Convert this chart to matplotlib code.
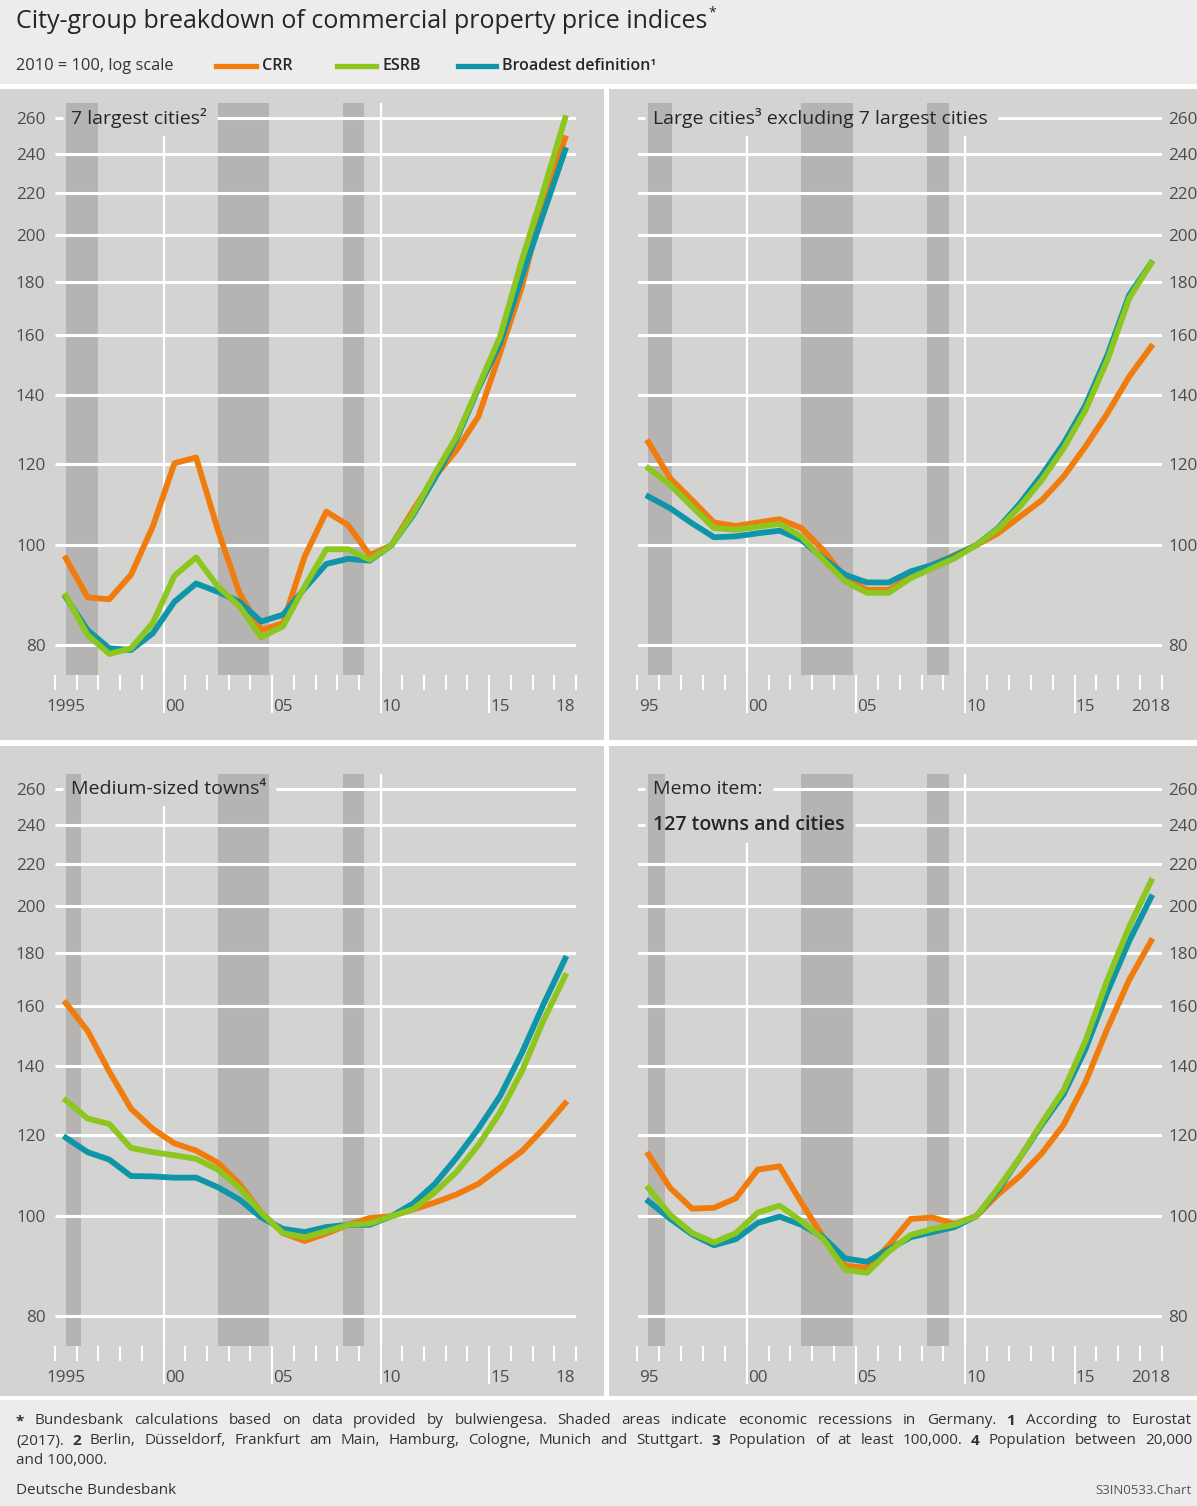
import matplotlib
matplotlib.use("Agg")
import matplotlib.pyplot as plt
from matplotlib.lines import Line2D
from matplotlib.patches import Rectangle
from matplotlib.ticker import NullLocator
import numpy as np

plt.rcParams['font.family'] = ['Open Sans', 'DejaVu Sans']

W, H = 1197, 1506

# annual data, 2010 = 100
years = np.arange(1995, 2019)

big7_crr = [97.1, 89.0, 88.6, 93.6, 104.2, 120.1, 121.7, 103.5, 89.8, 82.7, 84.0, 97.5,
            107.8, 104.6, 97.8, 100.0, 108.2, 116.6, 123.7, 133.3, 153.7, 178.0, 216.0, 248.5]
big7_esrb = [89.3, 81.8, 78.4, 79.4, 84.0, 93.4, 97.3, 91.2, 87.2, 81.4, 83.4, 91.2,
             99.1, 99.1, 96.8, 100.0, 107.4, 117.4, 127.5, 142.5, 159.4, 189.0, 221.0, 260.0]
big7_broad = [89.0, 82.7, 79.4, 79.1, 82.1, 88.1, 91.8, 90.1, 88.1, 84.3, 85.6, 90.8,
              95.9, 97.0, 96.6, 100.0, 107.0, 116.2, 126.8, 142.0, 157.0, 182.0, 210.0, 242.0]

large_crr = [125.9, 116.1, 110.6, 105.2, 104.4, 105.2, 106.0, 103.9, 98.9, 92.9, 90.5, 90.5,
             93.2, 95.7, 97.8, 100.0, 102.7, 106.6, 110.6, 116.6, 124.7, 134.3, 145.8, 155.9]
large_esrb = [118.8, 114.4, 109.0, 103.9, 103.5, 104.2, 104.9, 101.9, 96.8, 92.2, 89.9, 89.9,
              92.9, 95.0, 97.1, 100.0, 103.7, 109.0, 115.7, 124.2, 135.3, 151.3, 173.7, 187.9]
large_broad = [111.5, 108.6, 105.0, 101.8, 102.0, 102.7, 103.3, 101.2, 97.1, 93.6, 92.0, 92.0,
               94.3, 95.7, 97.6, 100.0, 103.9, 109.8, 117.0, 125.6, 136.8, 153.0, 175.0, 188.0]

medium_crr = [161.1, 151.4, 138.2, 127.2, 121.6, 117.7, 115.8, 112.7, 107.5, 100.8, 96.3, 94.6,
              96.2, 98.1, 99.6, 100.0, 101.5, 103.1, 105.0, 107.5, 111.5, 115.6, 121.6, 128.7]
medium_esrb = [129.6, 124.4, 122.9, 116.5, 115.4, 114.6, 113.7, 111.0, 106.5, 100.8, 96.3, 95.4,
               96.7, 98.1, 98.4, 100.0, 101.6, 105.5, 110.4, 117.2, 126.1, 138.2, 154.9, 171.2]
medium_broad = [119.2, 115.4, 113.5, 109.4, 109.3, 109.0, 109.0, 106.7, 103.8, 99.7, 97.2, 96.5,
                97.6, 98.1, 98.1, 100.0, 102.9, 107.5, 114.0, 121.6, 130.8, 144.0, 160.6, 177.9]

all_crr = [114.8, 106.5, 101.7, 101.9, 104.1, 111.0, 111.8, 103.1, 95.4, 89.5, 89.1, 93.7,
           99.4, 99.7, 98.3, 100.0, 105.0, 109.4, 115.1, 122.7, 135.0, 152.1, 169.7, 185.1]
all_esrb = [106.5, 100.3, 96.3, 94.3, 96.3, 100.8, 102.4, 98.9, 95.0, 88.7, 88.1, 92.4,
            95.9, 97.2, 98.1, 100.0, 106.5, 114.0, 123.2, 132.6, 148.0, 169.7, 191.1, 211.7]
all_broad = [103.4, 99.4, 96.0, 93.7, 95.0, 98.5, 99.9, 98.1, 95.4, 91.0, 90.3, 92.9,
             95.4, 96.5, 97.6, 100.0, 106.0, 114.0, 122.7, 131.4, 145.3, 165.1, 185.1, 204.1]

# recessions (shaded), start/end in fractional years
rec_big7 = [(1995.5, 1997.0), (2002.5, 2004.85), (2008.25, 2009.25)]
rec_large = [(1995.5, 1996.6), (2002.5, 2004.85), (2008.25, 2009.25)]
rec_medium = [(1995.5, 1996.2), (2002.5, 2004.85), (2008.25, 2009.25)]
rec_all = [(1995.5, 1996.25), (2002.5, 2004.85), (2008.25, 2009.25)]

yticks = [80, 100, 120, 140, 160, 180, 200, 220, 240, 260]
label_years_left = ['1995', '00', '05', '10', '15', '18']
label_years_right = ['95', '00', '05', '10', '15', '2018']
label_pos = [1995.5, 2000.5, 2005.5, 2010.5, 2015.5, 2018.5]

series_names = ['CRR', 'ESRB', 'Broadest definition¹']

ORANGE = '#f07c0e'
GREEN = '#8cc61e'
TEAL = '#0e96a8'
PANEL = '#d3d3d2'
SHADE = '#b6b4b3'
LIGHT = '#ececec'
TXT = '#262626'
TICKTXT = '#4d4d4d'


def fx(x):
    return x / W


def fy(y):
    return 1 - y / H


def box(x0, y0, x1, y1):
    return [x0 / W, 1 - y1 / H, (x1 - x0) / W, (y1 - y0) / H]


def rect(x0, y0, x1, y1, color):
    fig.add_artist(Rectangle((fx(x0), fy(y1)), (x1 - x0) / W, (y1 - y0) / H,
                             transform=fig.transFigure, color=color, lw=0, zorder=-5))


fig = plt.figure(figsize=(W / 100, H / 100), dpi=100, facecolor='white')
rend = fig.canvas.get_renderer()

# header / footer bands and the four panel backgrounds
rect(0, 0, W, 84, LIGHT)
rect(0, 1400, W, H, LIGHT)
rect(0, 89, 604, 740, PANEL)
rect(609, 89, W, 740, PANEL)
rect(0, 746, 604, 1396, PANEL)
rect(609, 746, W, 1396, PANEL)

# title
t = fig.text(fx(16), fy(22), 'City-group breakdown of commercial property price indices',
             fontsize=18, color=TXT, va='center', ha='left')
ext = t.get_window_extent(rend)
fig.text(ext.x1 / W + 1 / W, fy(13), '*', fontsize=10, color=TXT, va='center', ha='left')

# legend row
fig.text(fx(16), fy(66), '2010 = 100, log scale', fontsize=11.8, color='#333333', va='center')
legend_x = [(216, 256), (337, 376), (458, 496)]
for (a, b), c, name in zip(legend_x, [ORANGE, GREEN, TEAL], series_names):
    fig.add_artist(Line2D([fx(a), fx(b)], [fy(66), fy(66)], color=c, lw=3.8,
                          transform=fig.transFigure))
    fig.text(fx(b + 6), fy(66), name, fontsize=11.5, weight='semibold', color=TXT, va='center')

panels = [
    dict(plot=(55, 103, 576, 675), side='left', rec=rec_big7,
         data=(big7_crr, big7_esrb, big7_broad),
         titles=[('7 largest cities²', 260, 'medium')]),
    dict(plot=(637.5, 103, 1162, 675), side='right', rec=rec_large,
         data=(large_crr, large_esrb, large_broad),
         titles=[('Large cities³ excluding 7 largest cities', 260, 'medium')]),
    dict(plot=(55, 774, 576, 1346), side='left', rec=rec_medium,
         data=(medium_crr, medium_esrb, medium_broad),
         titles=[('Medium-sized towns⁴', 260, 'medium')]),
    dict(plot=(637.5, 774, 1162, 1346), side='right', rec=rec_all,
         data=(all_crr, all_esrb, all_broad),
         titles=[('Memo item:', 260, 'normal'), ('127 towns and cities', 240, 'semibold')]),
]

YMIN, YMAX = 74.8, 268.9
x_mid = years + 0.5

for p in panels:
    ax = fig.add_axes(box(*p['plot']))
    ax.patch.set_visible(False)
    for s in ax.spines.values():
        s.set_visible(False)
    ax.set_yscale('log')
    ax.set_xlim(1995, 2019)
    ax.set_ylim(YMIN, YMAX)
    ax.set_yticks(yticks)
    ax.set_yticklabels([str(v) for v in yticks])
    ax.yaxis.set_minor_locator(NullLocator())
    if p['side'] == 'right':
        ax.yaxis.tick_right()
        ax.tick_params(axis='y', length=0, pad=4.5, labelsize=12.3, labelcolor=TICKTXT)
        xlabels = label_years_right
    else:
        ax.tick_params(axis='y', length=0, pad=7, labelsize=12.3, labelcolor=TICKTXT)
        xlabels = label_years_left

    ax.set_xticks([2000, 2005, 2010, 2015])
    ax.set_xticks([y for y in range(1995, 2020) if y % 5 != 0 or y == 1995], minor=True)
    ax.tick_params(axis='x', which='major', length=27.4, width=1.5, color='white',
                   labelbottom=False)
    ax.tick_params(axis='x', which='minor', length=10.8, width=1.5, color='white')
    for lbl, pos in zip(xlabels, label_pos):
        ax.annotate(lbl, xy=(pos, 0), xycoords=('data', 'axes fraction'),
                    xytext=(0, -23), textcoords='offset points',
                    ha='center', va='center', fontsize=12.3, color=TICKTXT)

    for a, b in p['rec']:
        ax.axvspan(a, b, color=SHADE, lw=0, zorder=1)

    # panel titles; grid lines are broken around them
    boxes = []
    for text, yv, wt in p['titles']:
        tt = ax.text(1995.72, yv, text, fontsize=14, weight=wt, color=TXT,
                     va='center', ha='left', zorder=6)
        bb = tt.get_window_extent(rend)
        boxes.append((bb.x0 - 8, bb.y0 - 8, bb.x1 + 10, bb.y1 + 6))

    inv = ax.transData.inverted()
    for yv in yticks:
        ydisp = ax.transData.transform((2000, yv))[1]
        segs = [(1995, 2019)]
        for x0, y0, x1, y1 in boxes:
            if y0 <= ydisp <= y1:
                bx0 = inv.transform((x0, ydisp))[0]
                bx1 = inv.transform((x1, ydisp))[0]
                new = []
                for a, b in segs:
                    if a < bx0:
                        new.append((a, min(b, bx0)))
                    if b > bx1:
                        new.append((max(a, bx1), b))
                segs = new
        for a, b in segs:
            ax.hlines(yv, a, b, color='white', lw=2.2, zorder=2)

    for xv in (2000, 2010):
        xdisp = ax.transData.transform((xv, 100))[0]
        top = ax.transAxes.transform((0, 1))[1]
        for x0, y0, x1, y1 in boxes:
            if x0 <= xdisp <= x1:
                top = min(top, y0)
        ytop = inv.transform((xdisp, top))[1]
        ax.vlines(xv, YMIN, ytop, color='white', lw=1.6, zorder=2)

    crr, esrb, broad = p['data']
    ax.plot(x_mid, crr, color=ORANGE, lw=4.2, zorder=3, solid_joinstyle='round')
    ax.plot(x_mid, broad, color=TEAL, lw=4.2, zorder=4, solid_joinstyle='round')
    ax.plot(x_mid, esrb, color=GREEN, lw=4.2, zorder=5, solid_joinstyle='round')

# footnotes, justified across the page
FOOT = ['Liberation Sans Narrow', 'Open Sans', 'DejaVu Sans']
bold_marks = {'*', '1', '2', '3', '4'}
foot_lines = [
    '* Bundesbank calculations based on data provided by bulwiengesa. Shaded areas indicate '
    'economic recessions in Germany. 1 According to Eurostat',
    '(2017). 2 Berlin, Düsseldorf, Frankfurt am Main, Hamburg, Cologne, Munich and Stuttgart. '
    '3 Population of at least 100,000. 4 Population between 20,000',
]


def justified(line, x0, x1, y, size):
    words = line.split(' ')
    texts = [fig.text(0, fy(y), w, fontsize=size, family=FOOT, color='#333333',
                      weight='bold' if w in bold_marks else 'normal', va='center')
             for w in words]
    widths = [tx.get_window_extent(rend).width for tx in texts]
    gap = (x1 - x0 - sum(widths)) / (len(words) - 1)
    x = x0
    for tx, w in zip(texts, widths):
        tx.set_x(fx(x))
        x += w + gap


justified(foot_lines[0], 16, 1192, 1421, 11)
justified(foot_lines[1], 16, 1192, 1441, 11)
fig.text(fx(16), fy(1461), 'and 100,000.', fontsize=11, family=FOOT, color='#333333', va='center')
fig.text(fx(16), fy(1490), 'Deutsche Bundesbank', fontsize=11, family=FOOT, color='#333333',
         va='center')
fig.text(fx(1192), fy(1490), 'S3IN0533.Chart', fontsize=9.5, family=FOOT, color='#555555',
         va='center', ha='right')

fig.savefig('out.png', dpi=100, facecolor=fig.get_facecolor())
